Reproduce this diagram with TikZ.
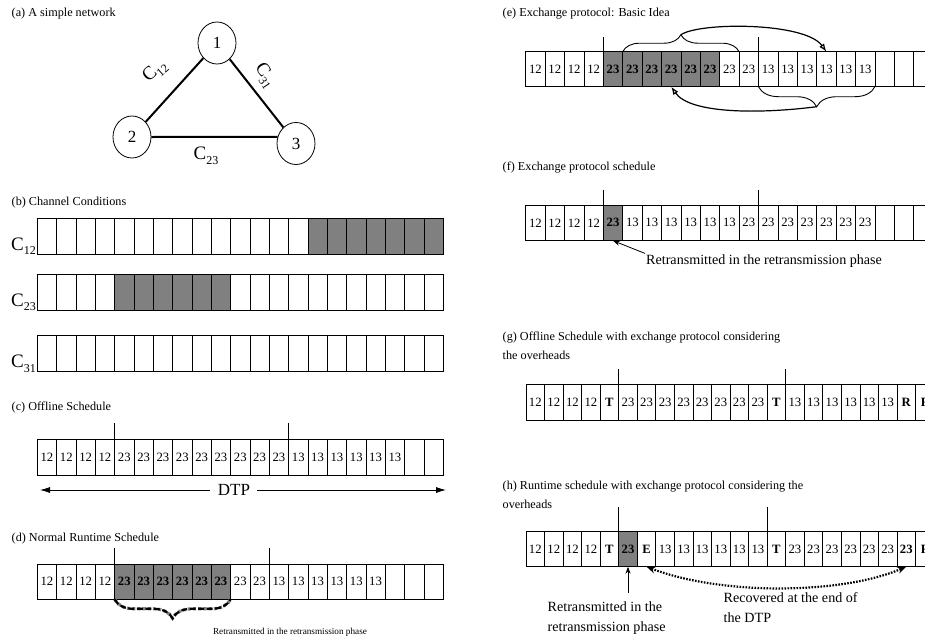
\documentclass[tikz,border=0pt]{standalone}
\usepackage{fontspec}
\setmainfont{Liberation Serif}
\usetikzlibrary{arrows.meta,shapes.geometric,decorations.pathreplacing,calc}
\definecolor{cellgray}{RGB}{128,128,128}
\newcommand{\myfs}[2]{\fontsize{#1}{#2}\selectfont}
\newcommand{\Csub}[1]{C\raisebox{-4.5pt}{\myfs{12}{12}#1}}
\newcommand{\schedrow}[6]{%
  \foreach \s/\t [count=\i] in {#6} {
    \node[cellbox, \s, minimum width=#4pt, minimum height=#5pt] (#1-\i) at ({#2+(\i-1)*#4}, #3) {\t};
  }%
}
\tikzset{
  cellbox/.style={draw=black, line width=0.8pt, inner sep=0pt, outer sep=0pt, anchor=north west, font=\myfs{12.7}{14}},
  cP/.style={},
  cG/.style={fill=cellgray, font=\myfs{12.7}{14}\bfseries},
  cB/.style={font=\myfs{12.7}{14}\bfseries},
  ttl/.style={anchor=west, inner sep=0pt, align=left, font=\myfs{12.2}{19}},
  netnode/.style={ellipse, draw, line width=0.8pt, minimum width=38pt, minimum height=42pt, inner sep=0pt, font=\myfs{17}{17}},
  netedge/.style={line width=2pt},
  clabel/.style={inner sep=0pt, font=\myfs{19}{19}},
  markline/.style={line width=0.8pt},
  bracel/.style={line width=0.9pt, decorate},
  arcl/.style={line width=1.2pt},
  note/.style={font=\myfs{14.1}{20}, align=left},
}
\begin{document}
\begin{tikzpicture}[x=1pt,y=-1pt]
\path[fill=white, use as bounding box] (0,0) rectangle (925,640);

% ---------- titles ----------
\node[ttl] (ta) at (11.5,14) {(a) A simple network};
\node[ttl] (tb) at (11.5,202.5) {(b) Channel Conditions};
\node[ttl] (tc) at (11.5,407.5) {(c) Offline Schedule};
\node[ttl] (td) at (11.5,539) {(d) Normal Runtime Schedule};
\node[ttl] (te) at (502.5,13.5) {(e) Exchange protocol: Basic Idea};
\node[ttl] (tf) at (502.5,168) {(f) Exchange protocol schedule};
\node[ttl] (tg) at (502.5,345.5) {(g) Offline Schedule with exchange protocol considering\\the overheads};
\node[ttl] (th) at (502.5,494.5) {(h) Runtime schedule with exchange protocol considering the\\overheads};

% ---------- (a) network ----------
\node[netnode] (n1) at (217,43) {1};
\node[netnode] (n2) at (132,137) {2};
\node[netnode] (n3) at (296,143.5) {3};
\draw[netedge] (n2) -- (n1);
\draw[netedge] (n1) -- (n3);
\draw[netedge] (n2.east) -- (n3.160);
\node[clabel, rotate=42] (l12) at (155,71) {\Csub{12}};
\node[clabel, rotate=-57] (l31) at (265,76) {\Csub{31}};
\node[clabel] (l23) at (206,156) {\Csub{23}};

% ---------- (b) channel conditions ----------
\schedrow{bA}{37.3}{218.3}{19.33}{35.7}{cP/{},cP/{},cP/{},cP/{},cP/{},cP/{},cP/{},cP/{},cP/{},cP/{},cP/{},cP/{},cP/{},cP/{},cG/{},cG/{},cG/{},cG/{},cG/{},cG/{},cG/{}}
\schedrow{bB}{37.3}{274.3}{19.33}{35.7}{cP/{},cP/{},cP/{},cP/{},cG/{},cG/{},cG/{},cG/{},cG/{},cG/{},cP/{},cP/{},cP/{},cP/{},cP/{},cP/{},cP/{},cP/{},cP/{},cP/{},cP/{}}
\schedrow{bC}{37.3}{335.5}{19.33}{35.7}{cP/{},cP/{},cP/{},cP/{},cP/{},cP/{},cP/{},cP/{},cP/{},cP/{},cP/{},cP/{},cP/{},cP/{},cP/{},cP/{},cP/{},cP/{},cP/{},cP/{},cP/{}}
\node[clabel, anchor=base east] (c12) at (36,250) {\Csub{12}};
\node[clabel, anchor=base east] (c23) at (36,306) {\Csub{23}};
\node[clabel, anchor=base east] (c31) at (36,367.5) {\Csub{31}};

% ---------- (c) offline schedule ----------
\schedrow{c}{37.3}{439.3}{19.33}{35.7}{cP/12,cP/12,cP/12,cP/12,cP/23,cP/23,cP/23,cP/23,cP/23,cP/23,cP/23,cP/23,cP/23,cP/13,cP/13,cP/13,cP/13,cP/13,cP/13,cP/{},cP/{}}
\draw[markline] (c-5.north west) -- ++(0,-16);
\draw[markline] (c-14.north west) -- ++(0,-16);
\node[inner sep=0pt, font=\myfs{17}{17}] (dtp) at (234,490) {DTP};
\coordinate (dtpL) at (40,490);
\coordinate (dtpR) at (446,490);
\draw[line width=0.8pt, -{Latex[length=10pt,width=6pt]}, shorten <=8pt] (dtp.west) -- (dtpL);
\draw[line width=0.8pt, -{Latex[length=10pt,width=6pt]}, shorten <=7pt] (dtp.east) -- (dtpR);

% ---------- (d) normal runtime schedule ----------
\schedrow{d}{37.3}{564}{19.33}{35.3}{cP/12,cP/12,cP/12,cP/12,cG/23,cG/23,cG/23,cG/23,cG/23,cG/23,cP/23,cP/23,cP/13,cP/13,cP/13,cP/13,cP/13,cP/13,cP/{},cP/{},cP/{}}
\draw[markline] (d-5.north west) -- ++(0,-16);
\draw[markline] (d-13.north west) -- ++(0,-16);
\draw[line width=3.2pt, gray, dotted, decorate, decoration={brace, mirror, amplitude=19pt}] (d-5.south west) -- (d-10.south east);
\draw[line width=2.2pt, black, dash pattern=on 6pt off 2.5pt, decorate, decoration={brace, mirror, amplitude=19pt}] (d-5.south west) -- (d-10.south east);
\node[inner sep=0pt, font=\myfs{9.2}{11}] (dnote) at (290,632) {Retransmitted in the retransmission phase};

% ---------- (e) exchange protocol: basic idea ----------
\schedrow{e}{525.7}{51.7}{19.4}{35}{cP/12,cP/12,cP/12,cP/12,cG/23,cG/23,cG/23,cG/23,cG/23,cG/23,cP/23,cP/23,cP/13,cP/13,cP/13,cP/13,cP/13,cP/13,cP/{},cP/{},cP/{}}
\draw[markline] (e-5.north west) -- ++(0,-15);
\draw[markline] (e-13.north west) -- ++(0,-15);
\draw[bracel, decoration={brace, amplitude=17pt}] (e-6.north west) -- (e-11.north east);
\draw[bracel, decoration={brace, mirror, amplitude=20pt}] (e-13.south west) -- (e-18.south east);
\coordinate (eTop) at ($(e-6.north west)!0.5!(e-11.north east)+(0,-17)$);
\coordinate (eBot) at ($(e-13.south west)!0.5!(e-18.south east)+(0,20)$);
\draw[arcl, -{Latex[open,length=8pt,width=6pt]}] (eTop) .. controls (700,22) and (805,22) .. (e-16.north);
\draw[arcl, -{Latex[open,length=8pt,width=6pt]}] (eBot) .. controls (760,114) and (690,114) .. (e-8.south);

% ---------- (f) exchange protocol schedule ----------
\schedrow{f}{525.7}{205}{19.4}{35.7}{cP/12,cP/12,cP/12,cP/12,cG/23,cP/13,cP/13,cP/13,cP/13,cP/13,cP/13,cP/23,cP/23,cP/23,cP/23,cP/23,cP/23,cP/23,cP/{},cP/{},cP/{}}
\draw[markline] (f-5.north west) -- ++(0,-15.5);
\draw[markline] (f-13.north west) -- ++(0,-15.5);
\node[note, anchor=west, inner sep=1pt] (fnote) at (645,261) {Retransmitted in the retransmission phase};
\draw[line width=0.8pt, -{Stealth[length=7pt,width=5pt]}] (fnote.north west) -- (f-5.south);

% ---------- (g) offline schedule with overheads ----------
\schedrow{g}{526}{384}{18.55}{36}{cP/12,cP/12,cP/12,cP/12,cB/T,cP/23,cP/23,cP/23,cP/23,cP/23,cP/23,cP/23,cP/23,cB/T,cP/13,cP/13,cP/13,cP/13,cP/13,cP/13,cB/R,cB/F}
\draw[markline] (g-6.north west) -- ++(0,-15);
\draw[markline] (g-15.north west) -- ++(0,-15);

% ---------- (h) runtime schedule with overheads ----------
\schedrow{h}{526}{531.7}{18.55}{35}{cP/12,cP/12,cP/12,cP/12,cB/T,cG/23,cB/E,cP/13,cP/13,cP/13,cP/13,cP/13,cP/13,cB/T,cP/23,cP/23,cP/23,cP/23,cP/23,cP/23,cB/23,cB/F}
\draw[markline] (h-6.north west) -- ++(0,-25);
\draw[markline] (h-14.north west) -- ++(0,-25);
\node[note, anchor=north west, inner sep=0pt] (hnoteA) at (547.5,602) {Retransmitted in the\\retransmission phase};
\node[note, anchor=north west, inner sep=0pt] (hnoteB) at (723.5,592) {Recovered at the end of\\the DTP};
\draw[line width=0.8pt, {Stealth[length=7pt,width=5pt]}-, shorten >=9pt] (h-6.south) -- (h-6.south |- hnoteA.north);
\draw[line width=2.2pt, dash pattern=on 1.6pt off 1.4pt, {Stealth[length=9pt,width=7pt]}-{Stealth[length=9pt,width=7pt]}] (h-7.south) .. controls (720,595) and (840,595) .. (h-21.south);
\end{tikzpicture}
\end{document}
